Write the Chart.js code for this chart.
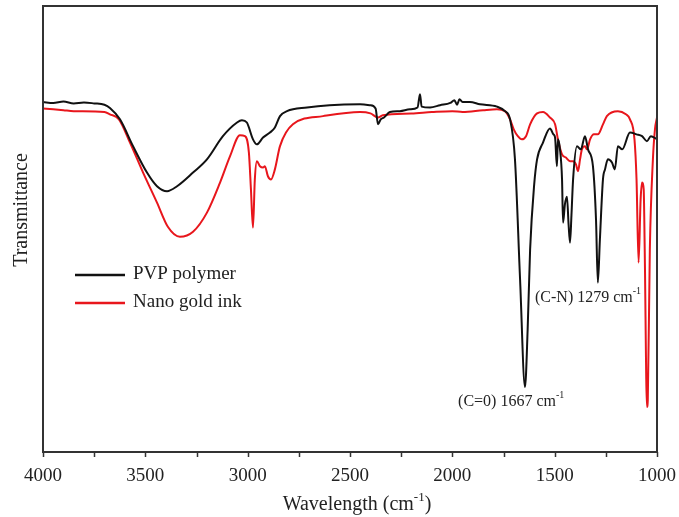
<!DOCTYPE html>
<html>
<head>
<meta charset="utf-8">
<script src="https://cdn.jsdelivr.net/npm/chart.js@4.4.1/dist/chart.umd.min.js"></script>
<style>
  body { margin: 0; background: #fff; }
  #wrap { width: 679px; height: 517px; }
</style>
</head>
<body>
<div id="wrap"><canvas id="ftir" width="679" height="517"></canvas></div>
<script>
// 数据：波数 (cm-1) 与透过率 (任意单位)
const seriesNames = ['PVP polymer', 'Nano gold ink'];
const xTicks = [4000, 3500, 3000, 2500, 2000, 1500, 1000];

const pvpWn = [
  4000, 3950, 3900, 3850, 3800, 3750, 3700, 3673, 3624, 3560,
  3492, 3443, 3394, 3345, 3267, 3199, 3121, 3052, 3028, 3004,
  2974, 2955, 2925, 2891, 2867, 2842, 2808, 2710, 2600, 2451,
  2402, 2375, 2363, 2350, 2334, 2305, 2256, 2207, 2170, 2158,
  2150, 2109, 2060, 2010, 1990, 1977, 1965, 1950, 1914, 1865,
  1782, 1743, 1718, 1694, 1669, 1645, 1632, 1620, 1600, 1586,
  1557, 1523, 1506, 1498, 1489, 1484, 1474, 1464, 1459, 1450,
  1440, 1432, 1425, 1418, 1410, 1391, 1372, 1352, 1337, 1313,
  1298, 1289, 1279, 1264, 1254, 1240, 1220, 1206, 1191, 1170,
  1132, 1100, 1073, 1049, 1030, 1000
];
const pvpT = [
  78.9, 78.7, 79.0, 78.6, 78.8, 78.6, 78.3, 77.6, 75.1, 69.2,
  63.4, 60.4, 59.3, 60.4, 63.4, 66.3, 71.4, 74.4, 74.9, 74.4,
  70.7, 69.6, 71.1, 72.2, 73.3, 75.8, 76.9, 77.7, 78.2, 78.4,
  78.2, 77.5, 74.0, 75.1, 75.5, 76.7, 76.9, 77.3, 77.7, 80.6,
  77.9, 77.7, 78.2, 78.7, 79.3, 78.3, 79.5, 78.9, 78.9, 78.4,
  77.9, 76.9, 75.1, 66.3, 39.9, 16.3, 28.9, 46.5, 60.8, 66.3,
  70.0, 73.1, 71.8, 71.1, 64.8, 70.7, 68.5, 61.9, 52.4, 56.4,
  58.1, 52.0, 48.0, 54.0, 61.9, 69.2, 68.5, 71.4, 68.5, 64.8,
  53.1, 39.2, 48.7, 61.9, 64.1, 66.3, 65.6, 64.1, 69.2, 68.5,
  72.2, 71.8, 71.4, 70.3, 71.4, 70.7
];

const inkWn = [
  4000, 3900, 3850, 3700, 3673, 3629, 3575, 3511, 3443, 3390,
  3331, 3267, 3199, 3135, 3086, 3038, 3013, 2994, 2984, 2974,
  2965, 2955, 2940, 2925, 2916, 2901, 2886, 2867, 2842, 2779,
  2632, 2451, 2400, 2363, 2340, 2200, 2100, 2000, 1950, 1850,
  1782, 1743, 1718, 1700, 1680, 1660, 1640, 1620, 1586, 1557,
  1523, 1498, 1484, 1464, 1445, 1425, 1410, 1396, 1386, 1376,
  1367, 1352, 1342, 1327, 1308, 1289, 1264, 1245, 1191, 1152,
  1132, 1110, 1100, 1090, 1080, 1073, 1065, 1060, 1049, 1045,
  1035, 1020, 1010, 1000
];
const inkT = [
  77.5, 77.1, 76.9, 76.7, 76.2, 75.1, 70.0, 63.4, 56.8, 51.5,
  49.3, 50.4, 54.6, 61.2, 67.0, 71.6, 71.4, 67.8, 59.7, 51.3,
  61.9, 65.9, 64.8, 64.5, 64.8, 62.6, 61.9, 64.1, 69.2, 74.0,
  75.8, 76.7, 76.4, 75.5, 76.0, 76.4, 76.7, 76.9, 76.7, 77.1,
  77.3, 76.9, 75.1, 72.9, 71.4, 70.7, 71.4, 74.0, 76.4, 76.7,
  75.5, 74.0, 70.7, 67.4, 66.7, 65.9, 65.9, 65.2, 63.7, 66.3,
  68.5, 69.2, 68.5, 70.7, 71.8, 71.8, 74.0, 75.8, 76.9, 76.2,
  75.1, 70.7, 61.9, 43.6, 57.5, 61.2, 59.7, 46.5, 11.9, 13.4,
  46.5, 66.3, 72.9, 75.5
];

const serif = '"Liberation Serif", "DejaVu Serif", serif';
const textColor = '#222';

function toPoints(xs, ys) {
  return xs.map((x, i) => ({ x: x, y: ys[i] }));
}

// 画带上标的文字，返回总宽度
function drawSup(ctx, parts, x, y, size, measureOnly) {
  let w = 0;
  parts.forEach(p => {
    const s = p.sup ? Math.round(size * 0.65) : size;
    ctx.font = s + 'px ' + serif;
    if (!measureOnly) ctx.fillText(p.t, x + w, p.sup ? y - size * 0.38 : y);
    w += ctx.measureText(p.t).width;
  });
  return w;
}

const decorPlugin = {
  id: 'decor',
  afterDraw(chart) {
    const ctx = chart.ctx;
    const a = chart.chartArea;
    const xs = chart.scales.x;
    const ys = chart.scales.y;
    ctx.save();

    // 边框
    ctx.strokeStyle = '#333';
    ctx.lineWidth = 2;
    ctx.strokeRect(a.left, a.top, a.right - a.left, a.bottom - a.top);

    // 刻度线 (每 250)
    ctx.lineWidth = 1.5;
    for (let v = 1000; v <= 4000; v += 250) {
      const px = Math.round(xs.getPixelForValue(v)) + 0.5;
      ctx.beginPath();
      ctx.moveTo(px, a.bottom);
      ctx.lineTo(px, a.bottom + 5);
      ctx.stroke();
    }

    ctx.fillStyle = textColor;
    ctx.textBaseline = 'middle';

    // 图例
    chart.data.datasets.forEach((ds, i) => {
      const ly = 275 + i * 28;
      ctx.strokeStyle = ds.borderColor;
      ctx.lineWidth = 2.5;
      ctx.beginPath();
      ctx.moveTo(75, ly);
      ctx.lineTo(125, ly);
      ctx.stroke();
      ctx.font = '19px ' + serif;
      ctx.fillText(ds.label, 133, ly - 1);
    });

    // 峰标注
    const notes = [
      { wn: 1596, t: 35.9, parts: [{ t: '(C-N) 1279 cm' }, { t: '-1', sup: true }] },
      { wn: 1972, t: 13.0, parts: [{ t: '(C=0) 1667 cm' }, { t: '-1', sup: true }] }
    ];
    notes.forEach(n => {
      drawSup(ctx, n.parts, xs.getPixelForValue(n.wn), ys.getPixelForValue(n.t), 16);
    });

    // x 轴标题
    const xt = [{ t: 'Wavelength (cm' }, { t: '-1', sup: true }, { t: ')' }];
    const w = drawSup(ctx, xt, 0, 0, 20, true);
    drawSup(ctx, xt, (a.left + a.right) / 2 + 7 - w / 2, 505, 20);

    // y 轴标题
    ctx.translate(22, 210);
    ctx.rotate(-Math.PI / 2);
    ctx.textAlign = 'center';
    ctx.font = '20px ' + serif;
    ctx.fillText('Transmittance', 0, 0);

    ctx.restore();
  }
};

new Chart(document.getElementById('ftir'), {
  type: 'line',
  data: {
    datasets: [{
      label: seriesNames[0],
      data: toPoints(pvpWn, pvpT),
      borderColor: '#111111',
      borderWidth: 2,
      pointRadius: 0,
      cubicInterpolationMode: 'monotone'
    }, {
      label: seriesNames[1],
      data: toPoints(inkWn, inkT),
      borderColor: '#e8161c',
      borderWidth: 2,
      pointRadius: 0,
      cubicInterpolationMode: 'monotone'
    }]
  },
  options: {
    responsive: false,
    animation: false,
    layout: { padding: { left: 43, right: 22, top: 6, bottom: 0 } },
    plugins: { legend: { display: false }, tooltip: { enabled: false } },
    scales: {
      x: {
        type: 'linear',
        reverse: true,
        min: 1000,
        max: 4000,
        afterBuildTicks: s => { s.ticks = xTicks.map(v => ({ value: v })); },
        afterFit: s => { s.height = 65; s.paddingLeft = 0; s.paddingRight = 0; },
        ticks: {
          font: { family: serif, size: 19 },
          color: textColor,
          padding: 13,
          maxRotation: 0,
          autoSkip: false,
          callback: v => String(v)
        },
        grid: { display: false, drawTicks: false },
        border: { display: false }
      },
      y: { display: false, min: 2, max: 100 }
    }
  },
  plugins: [decorPlugin]
});
</script>
</body>
</html>
